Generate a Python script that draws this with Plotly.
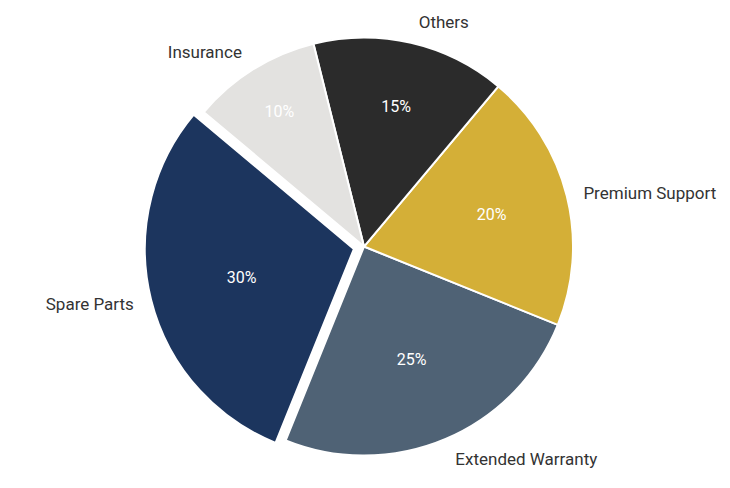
import plotly.graph_objects as go

labels = ["Spare Parts", "Extended Warranty", "Premium Support", "Others", "Insurance"]
shares = [30, 25, 20, 15, 10]
colors = ["#1c355e", "#4f6275", "#d4af37", "#2b2b2b", "#e3e2e0"]
pulls = [0.05, 0, 0, 0, 0]

FONT = "Roboto, Noto Sans, sans-serif"
ROT = -158

fig = go.Figure()

# slices with the percentages inside
fig.add_trace(go.Pie(
    labels=labels,
    values=shares,
    sort=False,
    direction="counterclockwise",
    rotation=ROT,
    pull=pulls,
    domain=dict(x=[0, 1], y=[0.028, 0.974]),
    marker=dict(colors=colors, line=dict(color="white", width=2)),
    texttemplate="%{percent:.0%}",
    textposition="inside",
    insidetextorientation="horizontal",
    insidetextfont=dict(family=FONT, size=16, color="white"),
    showlegend=False,
    automargin=False,
))

# a slightly larger transparent copy, only to carry the outside labels
fig.add_trace(go.Pie(
    labels=labels,
    values=shares,
    sort=False,
    direction="counterclockwise",
    rotation=ROT,
    pull=pulls,
    domain=dict(x=[0, 1], y=[0, 1]),
    marker=dict(colors=["rgba(0,0,0,0)"] * len(labels), line=dict(width=0)),
    textinfo="label",
    textposition="outside",
    outsidetextfont=dict(family=FONT, size=17, color="#333333"),
    hoverinfo="skip",
    showlegend=False,
    automargin=False,
))

fig.update_layout(
    width=730,
    height=488,
    margin=dict(t=7, b=17, l=0, r=18),
    paper_bgcolor="white",
    plot_bgcolor="white",
    font=dict(family=FONT),
)

fig.write_html("out.html")
